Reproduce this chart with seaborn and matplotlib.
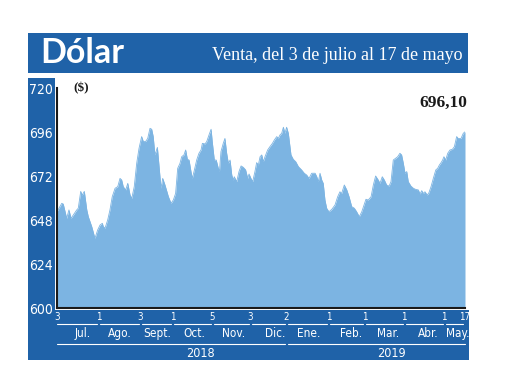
import matplotlib
matplotlib.use("Agg")
import matplotlib.pyplot as plt
import matplotlib.transforms as mtransforms
from matplotlib.patches import Rectangle
import pandas as pd
import seaborn as sns

# ---------------- data ----------------
# x = trading session number since 3 July 2018, y = peso/dollar sell rate
sessions = [0.0, 2.5, 3.3, 5.1, 6.3, 7.4, 8.6, 10.4, 11.2, 12.5, 13.3, 14.4, 15.7, 16.5, 18.3,
            20.0, 21.4, 22.7, 23.9, 24.4, 25.3, 26.7, 27.9, 29.1, 30.6, 32.0, 33.2, 34.1, 34.9,
            36.2, 37.3, 38.5, 39.4, 40.7, 42.0, 43.2, 44.6, 45.5, 46.7, 47.8, 49.0, 49.9, 50.7,
            51.6, 52.9, 53.8, 54.8, 55.7, 56.9, 58.7, 60.1, 61.3, 62.5, 63.6, 64.8, 65.7, 66.9,
            67.8, 68.7, 69.6, 70.6, 71.3, 72.4, 73.6, 74.8, 75.9, 76.6, 78.0, 78.9, 80.1, 81.2,
            81.8, 82.9, 83.9, 85.0, 85.6, 86.4, 87.6, 88.5, 89.4, 90.3, 91.2, 92.1, 92.9, 93.4,
            94.7, 95.9, 97.0, 98.2, 99.4, 100.5, 101.2, 102.2, 103.1, 104.3, 105.2, 106.1, 107.0,
            107.9, 108.7, 109.6, 111.0, 112.2, 113.5, 114.5, 115.8, 116.6, 117.5, 118.4, 119.3,
            120.1, 121.0, 121.9, 123.3, 124.5, 125.8, 127.2, 128.9, 130.3, 131.6, 132.8, 134.2,
            136.0, 136.9, 137.7, 138.6, 139.5, 140.3, 141.2, 142.1, 143.3, 144.8, 146.5, 147.9,
            149.1, 150.0, 151.4, 152.7, 153.9, 155.3, 156.7, 157.9, 159.3, 160.6, 161.8, 162.8,
            164.0, 165.5, 166.7, 167.9, 169.3, 170.2, 171.4, 172.5, 173.7, 175.0, 176.0, 177.2,
            178.5, 179.5, 180.7, 181.6, 182.5, 183.4, 184.3, 185.1, 186.5, 187.8, 189.0, 190.4,
            191.3, 192.2, 193.0, 193.9, 195.1, 196.0, 197.1, 198.3, 199.6, 200.6, 201.5, 202.4,
            203.2, 203.9, 204.8, 205.9, 207.1, 208.3, 209.4, 210.6, 211.4, 212.9, 214.1, 215.0]
values = [652.5, 657.1, 656.7, 648.9, 653.5, 648.9, 650.7, 653.5, 654.4, 663.6, 661.6, 663.6,
          653.5, 649.8, 644.4, 638.0, 642.5, 645.3, 646.2, 644.4, 643.5, 648.0, 653.5, 660.7,
          665.3, 666.2, 670.7, 669.8, 666.2, 664.4, 668.0, 661.6, 659.8, 666.2, 679.0, 687.0,
          693.5, 690.8, 690.8, 692.5, 698.0, 697.5, 693.5, 683.5, 687.6, 677.1, 665.3, 670.7,
          667.1, 660.7, 657.1, 658.9, 662.5, 676.2, 678.9, 682.5, 683.5, 686.2, 681.1, 680.7,
          674.4, 670.7, 675.3, 680.7, 684.4, 686.2, 689.8, 689.5, 690.8, 694.4, 697.5, 690.8,
          680.7, 680.7, 676.2, 674.4, 685.3, 689.8, 692.5, 684.4, 678.9, 680.7, 672.5, 669.8,
          671.6, 668.9, 674.4, 677.5, 676.7, 675.3, 670.7, 673.1, 670.7, 668.9, 674.4, 679.3,
          678.0, 682.5, 683.5, 679.8, 682.5, 686.2, 688.0, 689.8, 691.6, 693.5, 692.5, 694.4,
          695.3, 698.6, 695.3, 698.6, 695.3, 683.5, 681.1, 679.8, 677.1, 675.3, 673.5, 672.5,
          670.7, 673.5, 673.5, 671.6, 668.9, 673.5, 669.8, 668.0, 658.9, 654.4, 652.5, 653.8,
          656.2, 660.7, 663.4, 662.5, 667.1, 664.4, 660.7, 655.3, 654.4, 652.5, 649.8, 652.5,
          656.2, 659.3, 658.9, 660.7, 667.1, 672.0, 669.8, 668.0, 671.6, 669.8, 667.1, 666.5,
          668.9, 680.7, 681.7, 682.5, 684.4, 683.5, 678.9, 673.5, 674.4, 668.9, 666.5, 665.3,
          664.7, 664.4, 662.2, 664.0, 662.5, 663.4, 661.6, 662.9, 666.2, 670.7, 675.3, 676.2,
          678.0, 679.3, 680.7, 682.5, 680.7, 684.4, 686.2, 686.5, 688.0, 693.5, 692.5, 692.5,
          695.3, 696.1]

tick_sessions = [0, 22, 44, 61, 82, 102, 121, 143, 162, 183, 204, 215]
tick_labels = ["3", "1", "3", "1", "5", "3", "2", "1", "1", "1", "1", "17"]
months = ["Jul.", "Ago.", "Sept.", "Oct.", "Nov.", "Dic.", "Ene.", "Feb.", "Mar.", "Abr.", "May."]
month_label_pos = [13.7, 33.2, 52.7, 72.2, 93.3, 114.9, 132.8, 154.9, 174.4, 195.5, 211.3]
years = ["2018", "2019"]
year_bounds = [(0, 121), (121, 215)]
year_label_pos = [75.4, 176.0]
y_ticks = [600, 624, 648, 672, 696, 720]
title = "Dólar"
subtitle = "Venta, del 3 de julio al 17 de mayo"
unit_label = "($)"
last_label = "696,10"

# ---------------- style ----------------
BLUE = "#1f62a8"
FILL = "#7cb4e2"
INK = "#1a1a1a"

sns.set_theme(style="white")
plt.rcParams["font.family"] = ["DejaVu Sans"]
plt.rcParams["font.stretch"] = "condensed"

W, H = 520, 390
fig = plt.figure(figsize=(W / 100, H / 100), dpi=100)
fig.patch.set_facecolor("white")


def fx(px):
    return px / W


def fy(py):
    return 1 - py / H


# background panels (header, left strip, bottom band)
for (x0, y0, x1, y1) in [(28, 33, 468, 73), (28, 78, 55, 360), (28, 310, 469, 360)]:
    fig.patches.append(Rectangle((fx(x0), fy(y1)), (x1 - x0) / W, (y1 - y0) / H,
                                 transform=fig.transFigure, facecolor=BLUE,
                                 edgecolor="none", zorder=-1))

fig.text(fx(40), fy(53), title, color="white", fontsize=24.5, fontweight="bold",
         family=["Lato", "DejaVu Sans"], ha="left", va="center")
fig.text(fx(463), fy(55), subtitle, color="white", fontsize=13, ha="right", va="center",
         family=["Liberation Serif", "DejaVu Serif"])

ax = fig.add_axes([fx(57), fy(308), 408 / W, 220 / H])
ax.set_facecolor("none")
df = pd.DataFrame({"session": sessions, "value": values})
ax.fill_between(df["session"], df["value"], 600, color=FILL, lw=0, zorder=1)
sns.lineplot(data=df, x="session", y="value", color=FILL, lw=0.6, ax=ax, zorder=1.1)

ax.set_xlim(0, 215)
ax.set_ylim(600, 720)
ax.set_xlabel("")
ax.set_ylabel("")
ax.set_axisbelow(True)
for s in ["top", "right"]:
    ax.spines[s].set_visible(False)
for s in ["left", "bottom"]:
    ax.spines[s].set_color(INK)
    ax.spines[s].set_linewidth(1.5)

ax.set_yticks(y_ticks)
ax.set_yticklabels([str(v) for v in y_ticks])
ax.tick_params(axis="y", direction="in", length=9, width=2, color=INK,
               labelcolor="white", labelsize=10, pad=3)
ax.set_xticks(tick_sessions)
ax.set_xticklabels(tick_labels)
ax.tick_params(axis="x", length=0, labelcolor="white", labelsize=7, pad=3)
ax.set_xticks([tick_sessions[-1]], minor=True)
ax.tick_params(axis="x", which="minor", direction="inout", length=7, width=2, color=INK)

trans = mtransforms.blended_transform_factory(ax.transData, ax.transAxes)
gap = 0.8
for i in range(len(tick_sessions) - 1):
    a = tick_sessions[i] + (gap if i > 0 else 0)
    b = tick_sessions[i + 1] - gap
    ax.plot([a, b], [-0.073, -0.073], transform=trans, color="white", lw=0.8,
            clip_on=False, zorder=3)
for m, p in zip(months, month_label_pos):
    ax.text(p, -0.114, m, transform=trans, color="white", fontsize=8.5,
            ha="center", va="center", clip_on=False)
for k, (yr, (a, b), p) in enumerate(zip(years, year_bounds, year_label_pos)):
    a2 = a + (gap if k > 0 else 0)
    b2 = b - (gap if k == 0 else 0)
    ax.plot([a2, b2], [-0.164, -0.164], transform=trans, color="white", lw=0.8,
            clip_on=False, zorder=3)
    ax.text(p, -0.205, yr, transform=trans, color="white", fontsize=9,
            ha="center", va="center", clip_on=False)

ax.text(0.039, 1.0, unit_label, transform=ax.transAxes, color=INK, fontsize=9.5,
        fontweight="bold", ha="left", va="center", family=["Liberation Serif", "DejaVu Serif"])
ax.text(0.948, 0.932, last_label, transform=ax.transAxes, color=INK, fontsize=12.5,
        fontweight="bold", ha="center", va="center", family=["Liberation Serif", "DejaVu Serif"])

fig.savefig("out.png", dpi=100)
